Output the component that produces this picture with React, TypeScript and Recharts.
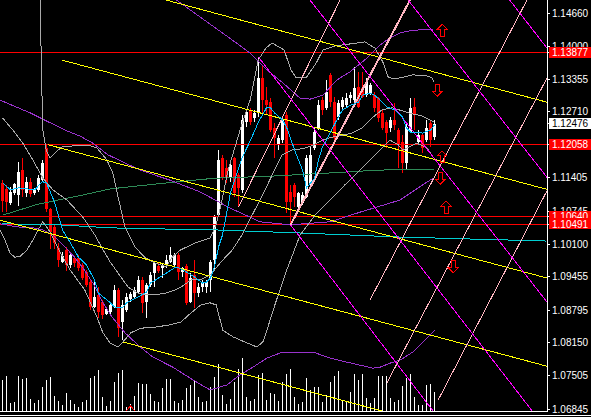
import React from "react";
import { ComposedChart, Bar, Line, XAxis, YAxis, ReferenceLine, ReferenceDot } from "recharts";

// OHLC per bar (index = bar number, left to right)
const opens = [
  1.1131, 1.1119, 1.1091, 1.1111, 1.1107, 1.1156, 1.1111, 1.1133, 1.1111, 1.1117,
  1.1136, 1.12, 1.1079, 1.1044, 1.1002, 1.0975, 1.0998, 1.0969, 1.0983, 1.0983,
  1.0969, 1.0955, 1.0935, 1.0886, 1.091, 1.0896, 1.0872, 1.0876, 1.0886, 1.0919,
  1.0856, 1.088, 1.0902, 1.0906, 1.0915, 1.0939, 1.0896, 1.0929, 1.0953, 1.0967,
  1.0963, 1.0969, 1.0975, 1.0969, 1.0988, 1.0955, 1.0967, 1.0896, 1.0949, 1.0913,
  1.0925, 1.0925, 1.0939, 1.0979, 1.1067, 1.118, 1.116, 1.114, 1.118, 1.1146,
  1.1117, 1.1251, 1.1275, 1.1259, 1.1269, 1.1338, 1.1294, 1.129, 1.1239, 1.1206,
  1.1215, 1.1265, 1.1113, 1.1127, 1.1083, 1.1091, 1.1103, 1.1127, 1.12, 1.1239,
  1.1294, 1.1279, 1.1344, 1.129, 1.1261, 1.1281, 1.1284, 1.1298, 1.1294, 1.132,
  1.1318, 1.1304, 1.1308, 1.1304, 1.1298, 1.1269, 1.1251, 1.1239, 1.1255, 1.1235,
  1.1211, 1.117, 1.1231, 1.1281, 1.1211, 1.1225, 1.1215, 1.1249, 1.1221,
];
const highs = [
  1.1136, 1.1127, 1.1123, 1.1131, 1.1172, 1.118, 1.1142, 1.114, 1.1121, 1.1146,
  1.1176, 1.1206, 1.1081, 1.1048, 1.1012, 1.0994, 1.1004, 1.0992, 1.0986, 1.0988,
  1.0973, 1.0959, 1.0939, 1.0939, 1.0925, 1.09, 1.0886, 1.0896, 1.0929, 1.0923,
  1.09, 1.0913, 1.0915, 1.0925, 1.0947, 1.0945, 1.0933, 1.0955, 1.0975, 1.0973,
  1.0973, 1.0988, 1.1004, 1.0992, 1.0992, 1.0965, 1.0971, 1.0953, 1.0979, 1.0933,
  1.0939, 1.0939, 1.0979, 1.1067, 1.1196, 1.1186, 1.1176, 1.1176, 1.1182, 1.115,
  1.1265, 1.1275, 1.1279, 1.1275, 1.1379, 1.1363, 1.132, 1.1298, 1.1249, 1.1225,
  1.1261, 1.1271, 1.1127, 1.1131, 1.1113, 1.1113, 1.1186, 1.1202, 1.1239, 1.1294,
  1.13, 1.1334, 1.1348, 1.13, 1.1294, 1.13, 1.1308, 1.131, 1.1359, 1.135,
  1.135, 1.1338, 1.1328, 1.131, 1.13, 1.1275, 1.1255, 1.1261, 1.1288, 1.1239,
  1.1225, 1.1249, 1.1298, 1.1298, 1.1235, 1.1229, 1.1255, 1.1255, 1.1255,
];
const lows = [
  1.1073, 1.1073, 1.1087, 1.1107, 1.1085, 1.1103, 1.1103, 1.1103, 1.1107, 1.1113,
  1.1133, 1.1073, 1.1, 1.1, 1.0965, 1.0973, 1.0957, 1.0963, 1.0965, 1.0957,
  1.0939, 1.0925, 1.088, 1.0884, 1.0864, 1.0862, 1.087, 1.087, 1.0884, 1.0827,
  1.0821, 1.0876, 1.0896, 1.0904, 1.0912, 1.0874, 1.0864, 1.0925, 1.0925, 1.0953,
  1.0943, 1.0963, 1.0973, 1.0965, 1.0939, 1.0945, 1.089, 1.0894, 1.0884, 1.0906,
  1.0915, 1.0913, 1.0915, 1.0959, 1.1063, 1.1136, 1.1131, 1.1133, 1.1103, 1.1083,
  1.1111, 1.1241, 1.1245, 1.1251, 1.1261, 1.1269, 1.1265, 1.1231, 1.118, 1.1196,
  1.1209, 1.1071, 1.1048, 1.1083, 1.1081, 1.1087, 1.1101, 1.1123, 1.1196, 1.1235,
  1.1265, 1.1275, 1.1281, 1.1215, 1.1255, 1.1275, 1.1281, 1.1288, 1.129, 1.1279,
  1.1298, 1.13, 1.1304, 1.1271, 1.1251, 1.1235, 1.12, 1.1231, 1.1235, 1.116,
  1.115, 1.1156, 1.1229, 1.1235, 1.1209, 1.119, 1.1211, 1.1202, 1.1215,
];
const closes = [
  1.1095, 1.1093, 1.1113, 1.1129, 1.1152, 1.1117, 1.1133, 1.1109, 1.1117, 1.114,
  1.117, 1.1079, 1.1034, 1.1012, 1.0979, 1.0986, 1.0969, 1.0988, 1.0973, 1.0963,
  1.0943, 1.0929, 1.0886, 1.0906, 1.0876, 1.087, 1.0882, 1.089, 1.0919, 1.0844,
  1.089, 1.0906, 1.0912, 1.0919, 1.0939, 1.0894, 1.0929, 1.0949, 1.0973, 1.0957,
  1.0969, 1.0979, 1.0988, 1.0988, 1.0955, 1.0963, 1.0894, 1.0943, 1.0913, 1.0925,
  1.0933, 1.0935, 1.0975, 1.1063, 1.1176, 1.114, 1.114, 1.1166, 1.1111, 1.1121,
  1.1255, 1.1271, 1.1251, 1.1269, 1.1338, 1.1294, 1.1284, 1.1235, 1.1219, 1.1219,
  1.1255, 1.1093, 1.1093, 1.1103, 1.1111, 1.1107, 1.118, 1.1186, 1.1231, 1.1284,
  1.1275, 1.131, 1.129, 1.1219, 1.1288, 1.1294, 1.1298, 1.1304, 1.1318, 1.1281,
  1.13, 1.133, 1.1324, 1.1279, 1.1259, 1.1239, 1.1229, 1.1255, 1.1245, 1.1206,
  1.117, 1.1241, 1.1279, 1.1265, 1.1225, 1.12, 1.1239, 1.1215, 1.12476,
];
// tick volume (relative units)
const volumes = [
  95, 107, 27, 30, 107, 98, 101, 38, 27, 35, 74, 95, 104, 47, 32, 20, 56, 35, 23, 14,
  29, 35, 101, 107, 125, 44, 17, 32, 89, 116, 125, 14, 23, 47, 86, 83, 83, 53, 32, 29,
  71, 98, 98, 32, 26, 35, 71, 80, 92, 44, 29, 32, 74, 104, 143, 50, 23, 38, 89, 128,
  161, 44, 32, 38, 110, 116, 35, 56, 53, 32, 89, 113, 128, 44, 23, 29, 101, 65, 74, 74,
  29, 50, 89, 107, 122, 32, 32, 59, 113, 95, 113, 41, 26, 41, 107, 107, 107, 41, 29, 35,
  77, 101, 113, 44, 20, 20, 80, 83, 59,
];

// indicator lines, [bar index, price]
const fastMa = [
  [0, 1.1131], [2, 1.1117], [4, 1.1121], [8, 1.1117], [10, 1.1133], [11, 1.1131], [13, 1.1093],
  [15, 1.1038], [17, 1.1012], [19, 1.0984], [21, 1.0969], [23, 1.0939], [24, 1.0913], [27, 1.0894],
  [28, 1.0886], [30, 1.0884], [31, 1.0894], [34, 1.0906], [36, 1.0915], [37, 1.0933], [39, 1.0943],
  [41, 1.0953], [43, 1.0963], [44, 1.0963], [46, 1.0955], [48, 1.0945], [50, 1.0933], [51, 1.0935],
  [52, 1.0943], [53, 1.0965], [54, 1.1004], [55, 1.1028], [57, 1.1111], [60, 1.1182], [62, 1.1215],
  [64, 1.1251], [66, 1.1279], [67, 1.1279], [68, 1.1269], [70, 1.1255], [71, 1.1241], [73, 1.1196],
  [75, 1.1156], [76, 1.1121], [78, 1.114], [79, 1.1176], [80, 1.1202], [81, 1.1215], [82, 1.1231],
  [84, 1.1261], [85, 1.1275], [87, 1.1284], [89, 1.129], [90, 1.1304], [92, 1.1308], [93, 1.1304],
  [95, 1.129], [96, 1.1281], [98, 1.1275], [100, 1.1261], [101, 1.1239], [102, 1.1231], [104, 1.1231],
  [105, 1.1229], [107, 1.1235], [108, 1.1245],
];
const slowMa = [
  [0, 1.1067], [9, 1.1089], [19, 1.1105], [27, 1.1119], [39, 1.1129], [53, 1.114], [67, 1.1144],
  [81, 1.115], [94, 1.1156], [108, 1.1158],
];
const longMa = [
  [0, 1.105], [14, 1.1048], [27, 1.1042], [39, 1.104], [53, 1.1038], [74, 1.1032], [99, 1.1024],
  [117, 1.102], [136, 1.1016],
];
const bandUpper = [
  [9.4, 1.1492], [9.9, 1.1294], [10.1, 1.1235], [10.9, 1.1196], [11.9, 1.118], [13.1, 1.119], [14.9, 1.1202],
  [18.1, 1.1204], [21.9, 1.1204], [23.6, 1.12], [26.1, 1.1176], [27.6, 1.115], [28.9, 1.1103], [30.6, 1.1044],
  [33.1, 1.1004], [35.6, 1.0984], [38.1, 1.0973], [40.9, 1.0965], [42.4, 1.0984], [44.4, 1.0998], [48.1, 1.1012],
  [51.9, 1.1022], [53.4, 1.1048], [54.9, 1.1097], [56.4, 1.1156], [59.4, 1.1235], [61.9, 1.1294], [63.9, 1.1373],
  [65.9, 1.1397], [67.4, 1.1407], [70.4, 1.1393], [72.1, 1.1354], [73.4, 1.1338], [75.9, 1.1338], [78.4, 1.1367],
  [80.1, 1.1393], [83.1, 1.1401], [86.9, 1.1405], [90.6, 1.1409], [93.1, 1.1397], [95.1, 1.1369], [96.4, 1.134],
  [97.6, 1.1336], [99.4, 1.1338], [102.6, 1.1344], [106.1, 1.1342], [107.4, 1.1338], [107.9, 1.133],
];
const bandMiddle = [
  [0, 1.1259], [2.6, 1.1235], [5.1, 1.1209], [7.6, 1.1176], [10.1, 1.114], [12.6, 1.1117], [16.1, 1.1097],
  [20.1, 1.1063], [23.1, 1.1028], [24.9, 1.1002], [26.9, 1.0975], [29.6, 1.0945], [31.4, 1.0925], [33.9, 1.0913],
  [35.6, 1.091], [38.1, 1.091], [40.6, 1.0913], [43.1, 1.0919], [44.6, 1.0925], [47.1, 1.0939], [49.9, 1.0941],
  [51.9, 1.0949], [54.9, 1.0977], [57.4, 1.0998], [59.9, 1.1028], [62.4, 1.1067], [64.9, 1.1105], [67.4, 1.1146],
  [69.9, 1.1186], [72.4, 1.1196], [74.9, 1.1198], [77.4, 1.1204], [79.9, 1.1215], [82.4, 1.1221], [84.9, 1.1225],
  [87.4, 1.1229], [89.9, 1.1239], [92.4, 1.1259], [94.9, 1.1275], [97.4, 1.1279], [99.9, 1.1273], [102.4, 1.1267],
  [104.9, 1.1263], [107.9, 1.1251],
];
const bandLower = [
  [-0.6, 1.1038], [0.6, 1.1018], [1.9, 1.0992], [3.1, 1.0984], [4.4, 1.0986], [6.1, 1.0998], [7.6, 1.1018],
  [8.9, 1.1038], [10.1, 1.1054], [11.9, 1.1034], [14.4, 1.0994], [16.9, 1.0959], [20.6, 1.0919], [23.6, 1.0866],
  [25.1, 1.0835], [26.9, 1.0815], [28.9, 1.0807], [30.1, 1.0817], [32.1, 1.0835], [34.6, 1.0844], [38.1, 1.0846],
  [41.4, 1.085], [44.6, 1.0856], [47.1, 1.0874], [49.6, 1.089], [51.9, 1.0894], [53.4, 1.089], [55.1, 1.084],
  [57.6, 1.0827], [61.1, 1.0815], [63.6, 1.0807], [65.1, 1.0817], [66.1, 1.084], [68.1, 1.089], [70.6, 1.0949],
  [74.4, 1.1028], [78.1, 1.1067], [81.9, 1.1097], [85.6, 1.1127], [89.4, 1.1156], [94.4, 1.1196], [96.9, 1.1215],
  [98.9, 1.1206], [100.1, 1.1196], [103.6, 1.1209], [106.1, 1.12], [107.6, 1.1182],
];
const envUpper = [
  [43.4, 1.1492], [57.4, 1.1413], [61.9, 1.1387], [66.1, 1.1354], [70.1, 1.1328], [74.4, 1.1298], [76.9, 1.1296],
  [80.1, 1.1304], [83.6, 1.1334], [86.9, 1.135], [91.1, 1.1377], [94.4, 1.1403], [96.9, 1.1417], [99.4, 1.1427],
  [102.6, 1.1432], [107.6, 1.1434],
];
const envMiddle = [
  [-0.6, 1.1294], [6.9, 1.1269], [15.6, 1.1235], [19.4, 1.1223], [22.6, 1.1209], [26.4, 1.1186], [34.4, 1.1156],
  [41.9, 1.1136], [49.4, 1.1113], [56.9, 1.1081], [64.4, 1.1054], [71.9, 1.1048], [81.9, 1.1054], [89.4, 1.1073],
  [99.4, 1.1097], [107.6, 1.114],
];
const envLower = [
  [-0.6, 1.105], [3.6, 1.1044], [7.6, 1.1042], [10.1, 1.1038], [12.6, 1.1028], [15.1, 1.1008], [17.6, 1.0988],
  [20.1, 1.0963], [22.6, 1.0933], [25.1, 1.0894], [27.4, 1.0866], [30.6, 1.0835], [34.4, 1.0807], [37.6, 1.0787],
  [42.6, 1.0767], [47.6, 1.0742], [51.9, 1.0722], [56.1, 1.0732], [59.4, 1.0752], [62.6, 1.0767], [66.1, 1.0785],
  [69.4, 1.0795], [71.9, 1.0797], [77.6, 1.0797], [81.9, 1.0785], [86.1, 1.0777], [89.4, 1.0771], [92.6, 1.0765],
  [94.4, 1.0767], [96.9, 1.0775], [99.4, 1.0781], [102.6, 1.0797], [106.1, 1.0825], [108.1, 1.084],
];

// drawn objects: [x1, price1, x2, price2]
const channelLines = [
  [36, 1.1502, 136.1, 1.129],
  [14.9, 1.1373, 136.1, 1.1118],
  [11.4, 1.1206, 136.1, 1.0943],
  [-1, 1.1058, 136.1, 1.0769],
  [30.1, 1.0817, 136.1, 1.0594],
];
const fanLines = [
  [97.5, 1.1531, 136.1, 1.1142],
  [72.95, 1.1531, 136.1, 1.0896],
  [124.9, 1.1511, 136.1, 1.1397],
  [64, 1.1379, 136.1, 1.0643],
  [72, 1.1048, 111.3, 1.0643],
];
const gannLines = [
  [59, 1.1083, 85.6, 1.1511],
  [96.1, 1.0736, 140, 1.1396],
  [108.9, 1.0702, 140, 1.1174],
  [91.9, 1.09, 132.4, 1.1511],
];
const boldGann = [72, 1.1048, 103.2, 1.1511];
const levels = [1.13877, 1.12058, 1.1064, 1.10491];
const lastPrice = 1.12476;
// [bar index, price, direction: 1 up arrow, -1 down arrow, 0 small triangle]
const arrows = [
  [109.9, 1.1432, 1], [108.7, 1.1314, -1], [109.9, 1.1182, 1],
  [109.4, 1.114, -1], [110.9, 1.1083, 1], [112.7, 1.0965, -1], [32, 1.06855, 0],
];
const priceTicks = [1.1466, 1.14, 1.13355, 1.1271, 1.11405, 1.10745, 1.101, 1.09455, 1.08795, 1.0815, 1.07505, 1.06845];

const rows = opens.map((o, i) => ({ i, open: o, high: highs[i], low: lows[i], close: closes[i], vol: volumes[i] }));
const toRows = (pts: number[][]) => pts.map(([i, v]) => ({ i, v }));
const X_DOMAIN = [-0.625, 136.125];

const Candle = (props: any) => {
  const { x, y, width, height, payload } = props;
  const { open, close, high, low } = payload;
  const color = close >= open ? "#ffffff" : "#ff0000";
  const k = height / (high - low);
  const cx = Math.round(x + width / 2 - 0.5) + 0.5;
  const top = y + (high - Math.max(open, close)) * k;
  const bot = y + (high - Math.min(open, close)) * k;
  return (
    <g>
      <line x1={cx} x2={cx} y1={y} y2={y + height} stroke={color} strokeWidth={1} />
      <rect x={cx - 1.5} y={top} width={3} height={Math.max(1, bot - top)} fill={color} />
    </g>
  );
};

const Arrow = (dir: number) => (props: any) => {
  const { cx, cy } = props;
  const outline = dir === 0
    ? [[0, -2.5], [4.5, 2.5], [-4.5, 2.5]]
    : [[0, -6], [5, -1], [2, -1], [2, 6], [-2, 6], [-2, -1], [-5, -1]].map(([a, b]) => [a, b * dir]);
  const pts = outline.map(([a, b]) => `${cx + a},${cy + b}`).join(" ");
  return <polygon points={pts} fill="none" stroke="#ff0000" strokeWidth={1} />;
};

const PriceTick = (props: any) => {
  const { x, y, payload } = props;
  const v = payload.value;
  const text = v.toFixed(5);
  const font = { fontFamily: "Liberation Sans, Arial, sans-serif", fontSize: 10 };
  if (levels.includes(v) || v === lastPrice) {
    const isLast = v === lastPrice;
    return (
      <g>
        <rect x={x - 3} y={y - 6} width={45} height={11} fill={isLast ? "#ffffff" : "#ff0000"} />
        <text x={x} y={y + 3.5} fill={isLast ? "#000000" : "#ffffff"} style={font}>{text}</text>
      </g>
    );
  }
  return <text x={x} y={y + 3.5} fill="#ffffff" style={font}>{text}</text>;
};

const series = (pts: number[][], color: string) => (
  <Line
    xAxisId="p"
    yAxisId="p"
    data={toRows(pts)}
    dataKey="v"
    type="linear"
    stroke={color}
    strokeWidth={1}
    dot={false}
    activeDot={false}
    isAnimationActive={false}
  />
);

const segment = (s: number[], color: string, w: number, key: string) => (
  <ReferenceLine
    key={key}
    xAxisId="p"
    yAxisId="p"
    segment={[{ x: s[0], y: s[1] }, { x: s[2], y: s[3] }]}
    stroke={color}
    strokeWidth={w}
    ifOverflow="hidden"
  />
);

export default function App() {
  return (
    <div style={{ width: 591, height: 417, background: "#000", position: "relative", overflow: "hidden" }}>
      <style>{"body{margin:0;background:#000} .recharts-surface line, .recharts-surface path, .recharts-surface rect, .recharts-surface polygon{shape-rendering:crispEdges}"}</style>
      <ComposedChart width={591} height={417} data={rows} margin={{ top: 0, right: 0, bottom: 5, left: 0 }}>
        <XAxis xAxisId="p" dataKey="i" type="number" domain={X_DOMAIN} allowDataOverflow hide />
        <XAxis xAxisId="v" dataKey="i" type="number" domain={X_DOMAIN} allowDataOverflow hide />
        <YAxis
          yAxisId="p"
          orientation="right"
          width={44}
          type="number"
          domain={[1.06786, 1.14917]}
          allowDataOverflow
          ticks={[...priceTicks, 1.1064, 1.10491, 1.12058, 1.13877, lastPrice]}
          interval={0}
          tick={<PriceTick />}
          tickSize={3}
          tickMargin={2}
          tickLine={{ stroke: "#ffffff" }}
          axisLine={{ stroke: "#ffffff" }}
        />
        <YAxis yAxisId="v" hide type="number" domain={[0, 1236]} allowDataOverflow />

        <Bar xAxisId="v" yAxisId="v" dataKey="vol" barSize={1} fill="#ffffff" isAnimationActive={false} />

        {levels.map((lv) => (
          <ReferenceLine key={lv} xAxisId="p" yAxisId="p" y={lv} stroke="#ff0000" strokeWidth={1} />
        ))}

        {series(longMa, "#00ced1")}
        {series(slowMa, "#2e8b57")}
        {series(envUpper, "#9932cc")}
        {series(envMiddle, "#9932cc")}
        {series(envLower, "#9932cc")}
        {series(bandUpper, "#a9a9a9")}
        {series(bandMiddle, "#a9a9a9")}
        {series(bandLower, "#a9a9a9")}

        {channelLines.map((s, k) => segment(s, "#ffff00", 1, "c" + k))}
        {gannLines.map((s, k) => segment(s, "#ffb6c1", 1, "g" + k))}
        {segment(boldGann, "#ffb6c1", 2, "gb")}
        {fanLines.map((s, k) => segment(s, "#ff00ff", 1, "f" + k))}

        <Bar xAxisId="p" yAxisId="p" dataKey={(d: any) => [d.low, d.high]} barSize={3} shape={<Candle />} isAnimationActive={false} />

        {series(fastMa, "#00bfff")}

        {arrows.map(([x, y, d], k) => (
          <ReferenceDot key={"a" + k} xAxisId="p" yAxisId="p" x={x} y={y} r={6} shape={Arrow(d)} ifOverflow="visible" />
        ))}
      </ComposedChart>
      <div style={{ position: "absolute", left: 0, top: 411, width: 548, height: 1, background: "#fff" }} />
      <div style={{ position: "absolute", left: 0, top: 415, width: 591, height: 1, background: "#fff" }} />
    </div>
  );
}
